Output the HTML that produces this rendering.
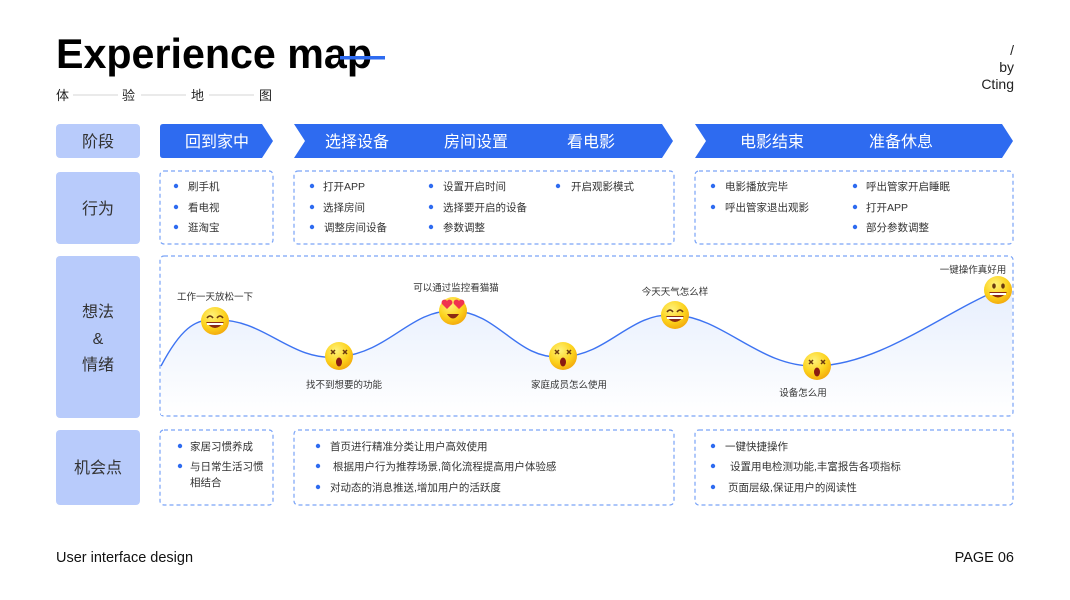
<!DOCTYPE html>
<html><head><meta charset="utf-8"><style>
html,body{margin:0;padding:0;background:#fff;width:1070px;height:600px;overflow:hidden}
svg text{font-family:"Liberation Sans","Noto Sans CJK SC",sans-serif}
</style></head><body>
<svg width="1070" height="600" viewBox="0 0 1070 600" xmlns="http://www.w3.org/2000/svg">
<defs>
<linearGradient id="fill" x1="0" y1="0" x2="0" y2="1"><stop offset="0" stop-color="#e6eefd"/><stop offset="1" stop-color="#ffffff"/></linearGradient>
<radialGradient id="em" cx="0.4" cy="0.3" r="0.75"><stop offset="0" stop-color="#fff27a"/><stop offset="0.6" stop-color="#fcd21c"/><stop offset="1" stop-color="#f2a50c"/></radialGradient>
<g id="happy"><circle r="14" fill="url(#em)"/><path d="M-8,-3 q3,-4 6,0 M2,-3 q3,-4 6,0" stroke="#6b3a10" stroke-width="1.6" fill="none"/><path d="M-9,1 q9,12 18,0 z" fill="#8a2a12"/><path d="M-8,2 h16 v2 h-16z" fill="#fff"/></g>
<g id="dizzy"><circle r="14" fill="url(#em)"/><path d="M-8,-6 l4,4 m0,-4 l-4,4 M4,-6 l4,4 m0,-4 l-4,4" stroke="#6b3a10" stroke-width="1.5"/><ellipse cx="0" cy="6" rx="3" ry="4.5" fill="#8a1a12"/></g>
<g id="love"><circle r="14" fill="url(#em)"/><path d="M-6,-2 l-5,-5 a2.8,2.8 0 0 1 5,-3 a2.8,2.8 0 0 1 5,3z M6,-2 l-5,-5 a2.8,2.8 0 0 1 5,-3 a2.8,2.8 0 0 1 5,3z" fill="#f0334f"/><path d="M-6,3 q6,9 12,0 z" fill="#8a2a12"/></g>
<g id="grin"><circle r="14" fill="url(#em)"/><ellipse cx="-4" cy="-4" rx="1.8" ry="2.6" fill="#6b3a10"/><ellipse cx="5" cy="-4" rx="1.8" ry="2.6" fill="#6b3a10"/><path d="M-9,2 q9,11 18,0 z" fill="#8a2a12"/><path d="M-8,3 h16 v2 h-16z" fill="#fff"/></g>
</defs>

<text x="56" y="68" font-size="42" font-weight="bold" fill="#000" textLength="316" lengthAdjust="spacingAndGlyphs">Experience map</text>
<rect x="340" y="56" width="45" height="3.5" fill="#2e6bf0"/>
<g font-size="13" fill="#222">
<text x="56" y="100">体</text><text x="122" y="100">验</text><text x="191" y="100">地</text><text x="259" y="100">图</text>
</g>
<g stroke="#d6d6d6" stroke-width="1"><line x1="73" y1="95" x2="118" y2="95"/><line x1="141" y1="95" x2="186" y2="95"/><line x1="209" y1="95" x2="254" y2="95"/></g>
<g font-size="14" fill="#222" text-anchor="end"><text x="1014" y="55">/</text><text x="1014" y="72">by</text><text x="1014" y="89">Cting</text></g>

<g fill="#b8cbfb">
<rect x="56" y="124" width="84" height="34" rx="4"/>
<rect x="56" y="172" width="84" height="72" rx="4"/>
<rect x="56" y="256" width="84" height="162" rx="4"/>
<rect x="56" y="430" width="84" height="75" rx="4"/>
</g>
<g font-size="16" fill="#333" text-anchor="middle">
<text x="98" y="147">阶段</text><text x="98" y="214">行为</text>
<text x="98" y="317">想法</text><text x="98" y="344">&amp;</text><text x="98" y="370">情绪</text>
<text x="98" y="473">机会点</text>
</g>

<g fill="#2e6bf0">
<path d="M163,124 H262 L273,141 L262,158 H163 Q160,158 160,155 V127 Q160,124 163,124z"/>
<path d="M294,124 H662 L673,141 L662,158 H294 L305,141z"/>
<path d="M695,124 H1002 L1013,141 L1002,158 H695 L706,141z"/>
</g>
<g font-size="16" fill="#fff" text-anchor="middle">
<text x="217" y="147">回到家中</text><text x="357" y="147">选择设备</text><text x="476" y="147">房间设置</text><text x="591" y="147">看电影</text><text x="772" y="147">电影结束</text><text x="901" y="147">准备休息</text>
</g>

<g fill="none" stroke="#7aa4f7" stroke-width="1.2" stroke-dasharray="4,3">
<rect x="160" y="171" width="113" height="73" rx="4"/>
<rect x="294" y="171" width="380" height="73" rx="4"/>
<rect x="695" y="171" width="318" height="73" rx="4"/>
<rect x="160" y="256" width="853" height="160" rx="4"/>
<rect x="160" y="430" width="113" height="75" rx="4"/>
<rect x="294" y="430" width="380" height="75" rx="4"/>
<rect x="695" y="430" width="318" height="75" rx="4"/>
</g>

<g fill="#2e6bf0">
<circle cx="176" cy="186" r="2.2"/><circle cx="176" cy="207" r="2.2"/><circle cx="176" cy="227" r="2.2"/>
<circle cx="312" cy="186" r="2.2"/><circle cx="312" cy="207" r="2.2"/><circle cx="312" cy="227" r="2.2"/>
<circle cx="431" cy="186" r="2.2"/><circle cx="431" cy="207" r="2.2"/><circle cx="431" cy="227" r="2.2"/>
<circle cx="558" cy="186" r="2.2"/>
<circle cx="713" cy="186" r="2.2"/><circle cx="713" cy="207" r="2.2"/>
<circle cx="855" cy="186" r="2.2"/><circle cx="855" cy="207" r="2.2"/><circle cx="855" cy="227" r="2.2"/>
<circle cx="180" cy="446" r="2.2"/><circle cx="180" cy="466" r="2.2"/>
<circle cx="318" cy="446" r="2.2"/><circle cx="318" cy="466" r="2.2"/><circle cx="318" cy="487" r="2.2"/>
<circle cx="713" cy="446" r="2.2"/><circle cx="713" cy="466" r="2.2"/><circle cx="713" cy="487" r="2.2"/>
</g>
<g font-size="10.5" fill="#333">
<text x="188" y="190">刷手机</text><text x="188" y="211">看电视</text><text x="188" y="231">逛淘宝</text>
<text x="323" y="190">打开APP</text><text x="323" y="211">选择房间</text><text x="324" y="231">调整房间设备</text>
<text x="443" y="190">设置开启时间</text><text x="443" y="211">选择要开启的设备</text><text x="443" y="231">参数调整</text>
<text x="571" y="190">开启观影模式</text>
<text x="725" y="190">电影播放完毕</text><text x="725" y="211">呼出管家退出观影</text>
<text x="866" y="190">呼出管家开启睡眠</text><text x="866" y="211">打开APP</text><text x="866" y="231">部分参数调整</text>
<text x="190" y="450">家居习惯养成</text><text x="190" y="470">与日常生活习惯</text><text x="190" y="486">相结合</text>
<text x="330" y="450">首页进行精准分类让用户高效使用</text><text x="333" y="470">根据用户行为推荐场景,简化流程提高用户体验感</text><text x="330" y="491">对动态的消息推送,增加用户的活跃度</text>
<text x="725" y="450">一键快捷操作</text><text x="730" y="470">设置用电检测功能,丰富报告各项指标</text><text x="728" y="491">页面层级,保证用户的阅读性</text>
</g>

<path d="M161,366 C180,330 195,318 215,320 C265,318 290,362 339,357 C390,352 410,310 453,311 C500,312 515,360 563,357 C610,354 630,312 675,315 C725,318 760,368 817,366 C880,364 940,315 998,290 L1012,285 L1012,415 L161,415z" fill="url(#fill)"/>
<path d="M161,366 C180,330 195,318 215,320 C265,318 290,362 339,357 C390,352 410,310 453,311 C500,312 515,360 563,357 C610,354 630,312 675,315 C725,318 760,368 817,366 C880,364 940,315 998,290" fill="none" stroke="#3d73f2" stroke-width="1.4"/>
<use href="#happy" x="215" y="321"/>
<use href="#dizzy" x="339" y="356"/>
<use href="#love" x="453" y="311"/>
<use href="#dizzy" x="563" y="356"/>
<use href="#happy" x="675" y="315"/>
<use href="#dizzy" x="817" y="366"/>
<use href="#grin" x="998" y="290"/>
<g font-size="9.5" fill="#333" text-anchor="middle">
<text x="215" y="300">工作一天放松一下</text>
<text x="344" y="388">找不到想要的功能</text>
<text x="456" y="291">可以通过监控看猫猫</text>
<text x="569" y="388">家庭成员怎么使用</text>
<text x="675" y="295">今天天气怎么样</text>
<text x="803" y="396">设备怎么用</text>
<text x="973" y="273">一键操作真好用</text>
</g>

<text x="56" y="562" font-size="14.5" fill="#111">User interface design</text>
<text x="1014" y="562" font-size="14.5" fill="#111" text-anchor="end">PAGE 06</text>
</svg>
</body></html>
